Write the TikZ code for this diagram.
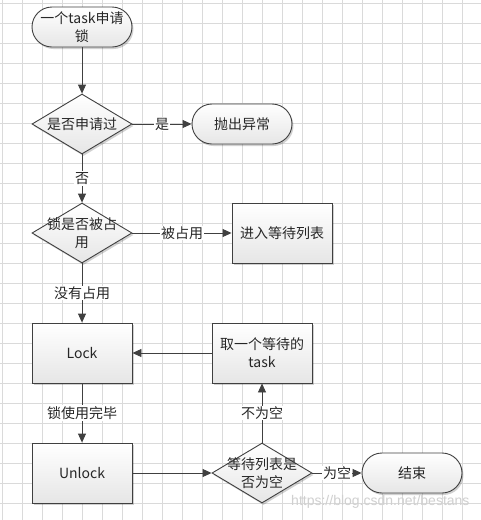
\documentclass[tikz,border=0pt]{standalone}
\usepackage{fontspec}
\setmainfont{Noto Sans CJK SC}
\newfontfamily\wmfont{Liberation Sans}
\usetikzlibrary{arrows.meta,shapes.geometric,shadows}
\definecolor{linec}{HTML}{404040}
\definecolor{gridc}{HTML}{DADADA}
\definecolor{fillbot}{HTML}{E6E6E6}
\definecolor{wmc}{HTML}{D0D0D0}
\tikzset{
  txt/.style={font=\fontsize{14}{18}\selectfont, text=black!85, align=center},
  shapebase/.style={draw=linec, line width=0.9pt, top color=white, bottom color=fillbot,
    drop shadow={shadow xshift=1.5pt, shadow yshift=-2pt, opacity=0.18, fill=black}},
  terminal/.style={shapebase, txt, rounded corners=20pt, minimum width=100pt, minimum height=40pt, inner sep=0pt},
  procbox/.style={shapebase, txt, rectangle, minimum width=100pt, minimum height=60pt, inner sep=0pt},
  decision/.style={shapebase, diamond, minimum width=100pt, minimum height=60pt, inner sep=0pt},
  flow/.style={draw=linec, line width=0.9pt, -{Triangle[length=9pt,width=8pt]}},
  elabel/.style={txt, fill=white, inner sep=1pt}
}
\begin{document}
\begin{tikzpicture}[x=1pt,y=-1pt]
\useasboundingbox (0,0) rectangle (481,520);
\fill[white] (0,0) rectangle (481,520);
\foreach \x in {2,22,...,462} \draw[gridc, line width=0.8pt] (\x,0) -- (\x,520);
\foreach \y in {3,23,...,503} \draw[gridc, line width=0.8pt] (0,\y) -- (481,\y);

\node[terminal] (start) at (82,27) {一个task申请\\锁};
\node[decision] (d1) at (82,124) {};
\node[txt] (d1t) at (d1) {是否申请过};
\node[terminal] (throw) at (242,124) {抛出异常};
\node[decision] (d2) at (82,233) {};
\node[txt] (d2t) at (d2) {锁是否被占\\用};
\node[procbox] (wait) at (282,233) {进入等待列表};
\node[procbox] (lock) at (82,353) {Lock};
\node[procbox] (take) at (262,353) {取一个等待的\\task};
\node[procbox] (unlock) at (82,473) {Unlock};
\node[decision] (d3) at (262,473) {};
\node[txt] (d3t) at (d3) {等待列表是\\否为空};
\node[terminal] (end) at (412,473) {结束};

\draw[flow] (start) -- (d1);
\draw[flow] (d1.east) -- node[elabel] {是} (throw.west);
\draw[flow] (d1.south) -- node[elabel] {否} (d2.north);
\draw[flow] (d2.east) -- node[elabel] {被占用} (wait.west);
\draw[flow] (d2.south) -- node[elabel] {没有占用} (lock.north);
\draw[flow] (take.west) -- (lock.east);
\draw[flow] (lock.south) -- node[elabel] {锁使用完毕} (unlock.north);
\draw[flow] (unlock.east) -- (d3.west);
\draw[flow] (d3.north) -- node[elabel] {不为空} (take.south);
\draw[flow] (d3.east) -- node[elabel] {为空} (end.west);

\node[font=\wmfont\fontsize{14}{16}\selectfont, text=wmc, anchor=east] (wm) at (473,502) {https://blog.csdn.net/bestans};
\end{tikzpicture}
\end{document}
